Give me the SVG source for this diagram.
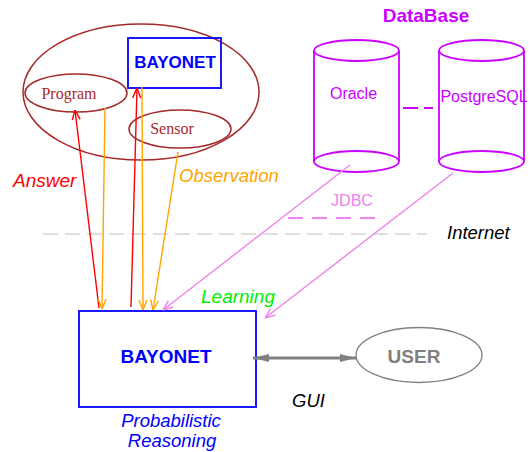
<svg xmlns="http://www.w3.org/2000/svg" width="531" height="452" viewBox="0 0 531 452">
<style>
text{font-family:"Liberation Sans",Arial,sans-serif}
text.serif{font-family:"Liberation Serif","Times New Roman",serif}
.it{font-style:italic}
.bd{font-weight:bold}
.brown{fill:none;stroke:#a52a2a;stroke-width:1.5}
.db{fill:none;stroke:#cc00ff;stroke-width:1.8}
.blue{fill:none;stroke:#0000ff;stroke-width:1.8}
.red{stroke:#ff0000;stroke-width:1.4;fill:none}
.org{stroke:#ffa500;stroke-width:1.4;fill:none}
.vio{stroke:#ee82ee;stroke-width:1.4;fill:none}
</style>
<defs>
<marker id="ar" markerUnits="userSpaceOnUse" viewBox="0 0 10 10" refX="10" refY="5" markerWidth="10" markerHeight="10" orient="auto"><path d="M0,1 L10,5 L0,9" fill="none" stroke="#ff0000" stroke-width="1.4"/></marker>
<marker id="ao" markerUnits="userSpaceOnUse" viewBox="0 0 10 10" refX="10" refY="5" markerWidth="10" markerHeight="10" orient="auto"><path d="M0,1 L10,5 L0,9" fill="none" stroke="#ffa500" stroke-width="1.4"/></marker>
<marker id="av" markerUnits="userSpaceOnUse" viewBox="0 0 10 10" refX="10" refY="5" markerWidth="10" markerHeight="10" orient="auto"><path d="M0,1 L10,5 L0,9" fill="none" stroke="#ee82ee" stroke-width="1.4"/></marker>
<marker id="ag" markerUnits="userSpaceOnUse" viewBox="0 0 16 10" refX="16" refY="5" markerWidth="16" markerHeight="10" orient="auto-start-reverse"><path d="M0,1 L16,5 L0,9 z" fill="#808080"/></marker>
</defs>

<g id="world">
<ellipse cx="141" cy="92" rx="118" ry="68" class="brown"/>
</g>
<g id="program">
<ellipse cx="76" cy="93" rx="51" ry="19" class="brown"/>
<text x="69" y="99" class="serif" font-size="16" fill="#a52a2a" text-anchor="middle">Program</text>
</g>
<g id="sensor">
<ellipse cx="180" cy="129" rx="51" ry="19" class="brown"/>
<text x="172" y="134" class="serif" font-size="16" fill="#a52a2a" text-anchor="middle">Sensor</text>
</g>
<g id="bayonet-small">
<rect x="128" y="38" width="93" height="50" class="blue"/>
<text x="175" y="68" class="bd" font-size="17" fill="#0000ff" text-anchor="middle">BAYONET</text>
</g>

<g id="database">
<text x="426" y="22" class="bd" font-size="19" fill="#cc00ff" text-anchor="middle">DataBase</text>
</g>
<g id="oracle">
<path d="M314,50.5 V161.5 A42.5,10.5 0 0 0 399,161.5 V50.5" class="db"/>
<ellipse cx="356.5" cy="50.5" rx="42.5" ry="10.5" class="db"/>
<path d="M314,161.5 A42.5,10.5 0 0 1 399,161.5" class="db"/>
<text x="353.5" y="99" font-size="16" fill="#cc00ff" text-anchor="middle">Oracle</text>
</g>
<g id="postgresql">
<path d="M439,50.5 V161.5 A42.5,10.5 0 0 0 524,161.5 V50.5" class="db"/>
<ellipse cx="481.5" cy="50.5" rx="42.5" ry="10.5" class="db"/>
<path d="M439,161.5 A42.5,10.5 0 0 1 524,161.5" class="db"/>
<text x="484" y="102" font-size="16" fill="#cc00ff" text-anchor="middle">PostgreSQL</text>
</g>

<g id="bayonet">
<rect x="79" y="311" width="177" height="96" class="blue"/>
<text x="166" y="363" class="bd" font-size="19" fill="#0000ff" text-anchor="middle">BAYONET</text>
<text x="171" y="427" class="it" font-size="18.5" fill="#0000ff" text-anchor="middle">Probabilistic</text>
<text x="172" y="447" class="it" font-size="18.5" fill="#0000ff" text-anchor="middle">Reasoning</text>
</g>

<g id="user">
<ellipse cx="419" cy="355" rx="63" ry="27.5" fill="none" stroke="#808080" stroke-width="1.3"/>
<text x="414" y="363" class="bd" font-size="19" fill="#808080" text-anchor="middle">USER</text>
</g>

<g id="connectors">
<line x1="403" y1="108" x2="433" y2="108" stroke="#cc00ff" stroke-width="1.8" stroke-dasharray="15 6"/>
<line x1="43" y1="234" x2="427" y2="234" stroke="#c0c0c0" stroke-width="1.2" stroke-dasharray="15 7"/>
<line x1="288" y1="218" x2="384" y2="218" stroke="#ee82ee" stroke-width="2" stroke-dasharray="15 9"/>
<line x1="99" y1="308" x2="75" y2="110" class="red" marker-end="url(#ar)"/>
<line x1="131" y1="307" x2="137" y2="88" class="red" marker-end="url(#ar)"/>
<line x1="105" y1="108" x2="102" y2="309" class="org" marker-end="url(#ao)"/>
<line x1="142" y1="87" x2="143" y2="310" class="org" marker-end="url(#ao)"/>
<line x1="178" y1="152" x2="153" y2="310" class="org" marker-end="url(#ao)"/>
<line x1="350" y1="165" x2="163" y2="310" class="vio" marker-end="url(#av)"/>
<line x1="453" y1="173" x2="265" y2="318" class="vio" marker-end="url(#av)"/>
<line x1="253" y1="358" x2="356" y2="358" stroke="#808080" stroke-width="3" marker-start="url(#ag)" marker-end="url(#ag)"/>
</g>

<g id="labels">
<text x="13" y="187" class="it" font-size="19" fill="#ff0000">Answer</text>
<text x="179" y="182" class="it" font-size="18.5" fill="#ffa500">Observation</text>
<text x="352" y="206" font-size="16" fill="#ee82ee" text-anchor="middle">JDBC</text>
<text x="447" y="239" class="it" font-size="18.5" fill="#000">Internet</text>
<text x="201" y="303" class="it" font-size="19" fill="#00ee00">Learning</text>
<text x="292" y="407" class="it" font-size="18.5" fill="#000">GUI</text>
</g>
</svg>
